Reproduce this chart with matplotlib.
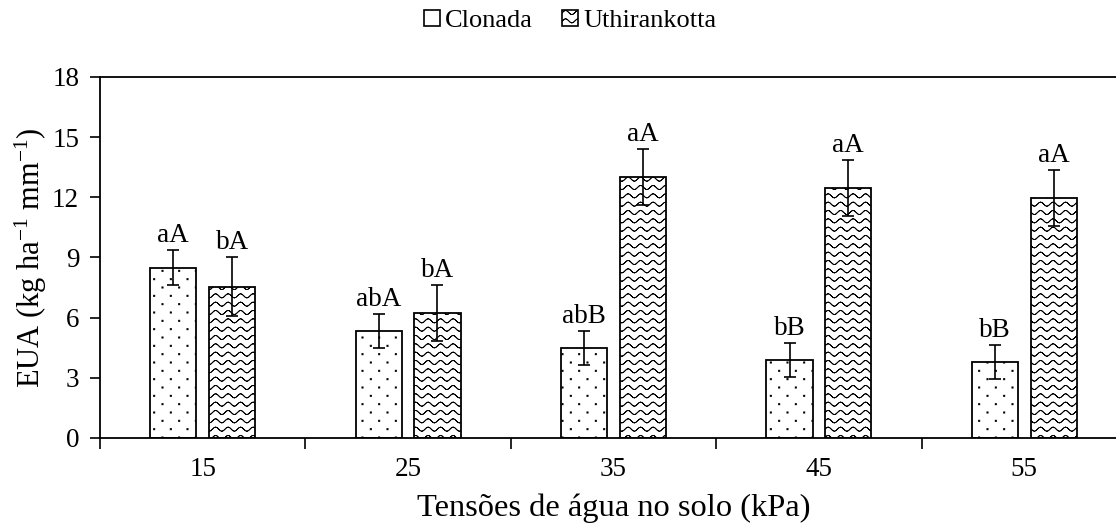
import numpy as np
import matplotlib
matplotlib.use("Agg")
import matplotlib.pyplot as plt
import matplotlib.hatch as mhatch
from matplotlib.path import Path
from matplotlib.patches import Patch

# data
tensoes = ["15", "25", "35", "45", "55"]
clonada = [8.5, 5.35, 4.5, 3.9, 3.8]
clonada_err = [0.85, 0.85, 0.85, 0.85, 0.85]
uthir = [7.55, 6.25, 13.0, 12.45, 11.95]
uthir_err = [1.45, 1.4, 1.4, 1.4, 1.4]
letras_clonada = ["aA", "abA", "abB", "bB", "bB"]
letras_uthir = ["bA", "bA", "aA", "aA", "aA"]


class WaveHatch(mhatch.HatchPatternBase):
    """wavy rows for the '~' hatch (retraced so agg fills nothing)"""
    def __init__(self, hatch, density):
        self.num_lines = 12 if '~' in hatch else 0
        self.periods = 8
        self.npts = self.periods * 8 + 1
        self.num_vertices = self.num_lines * self.npts * 2

    def set_vertices_and_codes(self, vertices, codes):
        n = self.npts
        xs = np.linspace(0, 1, n)
        amp = 0.021
        k = 0
        for i in range(self.num_lines):
            y0 = (i + 0.5) / self.num_lines
            ys = y0 + amp * np.sin(2 * np.pi * self.periods * xs)
            pts = np.column_stack([np.r_[xs, xs[::-1]], np.r_[ys, ys[::-1]]])
            vertices[k:k + 2 * n] = pts
            codes[k] = Path.MOVETO
            codes[k + 1:k + 2 * n] = Path.LINETO
            k += 2 * n


class DotHatch(mhatch.HatchPatternBase):
    """sparse staggered dots for the ':' hatch"""
    def __init__(self, hatch, density):
        self.rows = 12 if ':' in hatch else 0
        self.cols = 6
        self.num_vertices = self.rows * self.cols * 5

    def set_vertices_and_codes(self, vertices, codes):
        s = 0.006
        k = 0
        for r in range(self.rows):
            y = (r + 0.5) / self.rows
            shift = 0.5 / self.cols if r % 2 else 0.0
            for c in range(self.cols):
                x = (c + 0.25) / self.cols + shift
                vertices[k:k + 5] = [(x - s, y - s), (x + s, y - s), (x + s, y + s),
                                     (x - s, y + s), (x - s, y - s)]
                codes[k:k + 5] = [Path.MOVETO, Path.LINETO, Path.LINETO,
                                  Path.LINETO, Path.CLOSEPOLY]
                k += 5


mhatch._hatch_types.append(WaveHatch)
mhatch._hatch_types.append(DotHatch)

plt.rcParams['font.family'] = ['Liberation Serif', 'DejaVu Serif']
plt.rcParams['mathtext.default'] = 'regular'
plt.rcParams['hatch.linewidth'] = 0.6
plt.rcParams['hatch.color'] = 'black'

fig = plt.figure(figsize=(11.16, 5.27), dpi=100)
ax = fig.add_axes([0.0896, 0.1689, 0.9203, 0.685])

x = np.arange(len(tensoes))
w = 0.225
off = 0.143
ekw = dict(elinewidth=1.2, capthick=1.2, ecolor='black')

ax.bar(x - off, clonada, w, yerr=clonada_err, color='white', edgecolor='black',
       linewidth=1.3, hatch=':', capsize=4, error_kw=ekw)
ax.bar(x + off, uthir, w, yerr=uthir_err, color='white', edgecolor='black',
       linewidth=1.3, hatch='~', capsize=4, error_kw=ekw)

for xi, v, e, t in zip(x - off, clonada, clonada_err, letras_clonada):
    ax.text(xi, v + e + 0.1, t, ha='center', va='bottom', fontsize=19.5)
for xi, v, e, t in zip(x + off, uthir, uthir_err, letras_uthir):
    ax.text(xi, v + e + 0.1, t, ha='center', va='bottom', fontsize=19.5)

ax.set_xlim(-0.5, len(tensoes) - 0.5)
ax.set_ylim(0, 18)
ax.set_yticks(np.arange(0, 19, 3))
ax.set_xticks(np.arange(len(tensoes) + 1) - 0.5)
ax.set_xticklabels([])
ax.set_xticks(x, tensoes, minor=True)
ax.tick_params(axis='x', which='minor', length=0, pad=14)
ax.tick_params(axis='x', which='major', length=8, width=1.2, direction='out')
ax.tick_params(axis='y', length=7, width=1.2, direction='out', pad=8)
ax.tick_params(labelsize=19.5, which='both')
for s in ax.spines.values():
    s.set_linewidth(1.3)

ax.set_ylabel("EUA (kg ha$^{-1}$ mm$^{-1}$)", fontsize=22, labelpad=2)
ax.set_xlabel("Tensões de água no solo (kPa)", fontsize=23.4, labelpad=8)

handles = [Patch(facecolor='white', edgecolor='black', linewidth=1.2),
           Patch(facecolor='white', edgecolor='black', linewidth=1.2, hatch='~')]
fig.legend(handles, ["Clonada", "Uthirankotta"], loc='upper center',
           bbox_to_anchor=(0.511, 1.027), ncol=2, frameon=False, fontsize=19,
           handlelength=0.6, handleheight=0.6, handletextpad=0.2, columnspacing=1.1)

fig.savefig("out.png", dpi=100)
